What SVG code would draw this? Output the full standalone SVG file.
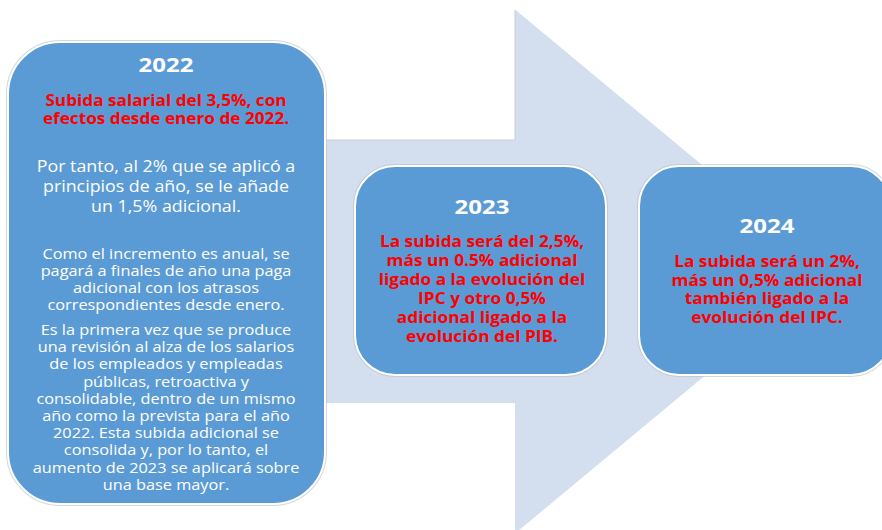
<svg xmlns="http://www.w3.org/2000/svg" width="882" height="530" viewBox="0 0 882 530">
<style>
.box{fill:#5B9BD5;stroke:#FFFFFF;stroke-width:2}
.halo{fill:none;stroke:#B8BEC6;stroke-width:4;opacity:0.6}
text{font-family:"Open Sans","Liberation Sans",sans-serif;text-anchor:middle}
.title{fill:#FFFFFF;font-weight:bold;font-size:20px}
.red{fill:#FF0000;font-weight:bold;font-size:15.5px}
.red2{fill:#FF0000;font-weight:bold;font-size:16px}
.w1{fill:#FFFFFF;font-size:15.5px}
.w2{fill:#FFFFFF;font-size:14px}
</style>
<rect width="882" height="530" fill="#FFFFFF"/>
<g id="connectors">
<polygon points="200,140 515,140 515,9.5 830,271.5 515,533.5 515,403 200,403" fill="#D3DEEE"/>
<polyline points="325,140 515,140 515,10" fill="none" stroke="#C9CDD2" stroke-width="1"/>
</g>
<g id="node-2022">
<rect class="halo" x="8" y="42" width="317" height="462" rx="52"/>
<rect class="box" x="8" y="42" width="317" height="462" rx="52"/>
<g transform="translate(166 0) scale(1.2 1)">
<text class="title" x="0" y="72">2022</text>
</g>
<g transform="translate(166 0) scale(1.11 1)">
<text class="red" x="0" y="106">Subida salarial  del 3,5%, con</text>
<text class="red" x="0" y="124">efectos desde enero de 2022.</text>
</g>
<g transform="translate(166 0) scale(1.15 1)">
<text class="w1" x="0" y="172">Por tanto, al 2% que se aplicó a</text>
<text class="w1" x="0" y="192">principios de año, se le añade</text>
<text class="w1" x="0" y="212">un 1,5% adicional.</text>
</g>
<g transform="translate(166 0) scale(1.165 1)">
<text class="w2" x="0" y="259">Como el incremento es anual, se</text>
<text class="w2" x="0" y="276">pagará a finales de año una paga</text>
<text class="w2" x="0" y="293">adicional con los atrasos</text>
<text class="w2" x="0" y="310">correspondientes desde enero.</text>
<text class="w2" x="0" y="335">Es la primera vez que se produce</text>
<text class="w2" x="0" y="352.2">una revisión al alza de los salarios</text>
<text class="w2" x="0" y="369.4">de los empleados y empleadas</text>
<text class="w2" x="0" y="386.6">públicas, retroactiva y</text>
<text class="w2" x="0" y="403.8">consolidable, dentro de un mismo</text>
<text class="w2" x="0" y="421">año como la prevista para el año</text>
<text class="w2" x="0" y="438.2">2022. Esta subida adicional se</text>
<text class="w2" x="0" y="455.4">consolida y, por lo tanto, el</text>
<text class="w2" x="0" y="472.6">aumento de 2023 se aplicará sobre</text>
<text class="w2" x="0" y="489.8">una base mayor.</text>
</g>
</g>
<g id="node-2023">
<rect class="halo" x="355" y="166" width="251" height="209" rx="40"/>
<rect class="box" x="355" y="166" width="251" height="209" rx="40"/>
<g transform="translate(482 0) scale(1.2 1)">
<text class="title" x="0" y="214">2023</text>
</g>
<g transform="translate(482 0) scale(1.08 1)">
<text class="red2" x="0" y="247">La subida será del 2,5%,</text>
<text class="red2" x="0" y="266">más un 0.5% adicional</text>
<text class="red2" x="0" y="285">ligado a la evolución del</text>
<text class="red2" x="0" y="304">IPC y otro 0,5%</text>
<text class="red2" x="0" y="323">adicional ligado a la</text>
<text class="red2" x="0" y="342">evolución del PIB.</text>
</g>
</g>
<g id="node-2024">
<rect class="halo" x="639" y="166" width="252" height="209" rx="40"/>
<rect class="box" x="639" y="166" width="252" height="209" rx="40"/>
<g transform="translate(767 0) scale(1.2 1)">
<text class="title" x="0" y="233">2024</text>
</g>
<g transform="translate(767 0) scale(1.08 1)">
<text class="red2" x="0" y="267">La subida será un 2%,</text>
<text class="red2" x="0" y="286">más un 0,5% adicional</text>
<text class="red2" x="0" y="304.5">también ligado a la</text>
<text class="red2" x="0" y="323">evolución del IPC.</text>
</g>
</g>
</svg>
